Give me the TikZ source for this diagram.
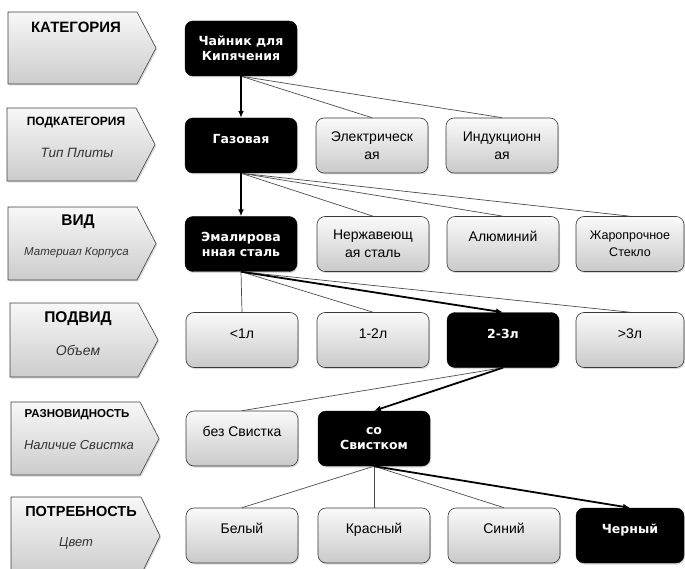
\documentclass[tikz,border=0pt]{standalone}
\usepackage{fontspec}
\setmainfont{Liberation Sans}
\newfontfamily\bfont{DejaVu Sans}
\usetikzlibrary{arrows.meta,shadows}
\tikzset{
  chev/.style={draw=gray!50!black, line width=0.6pt, top color=gray!6, bottom color=gray!40,
    drop shadow={opacity=0.3, shadow xshift=1.2pt, shadow yshift=-1.5pt}},
  ctitle/.style={inner sep=0pt},
  csub/.style={inner sep=0pt, text=black!80},
  cbox/.style={rounded corners=8pt, minimum width=112pt, minimum height=55pt, inner sep=2pt, align=center,
    drop shadow={opacity=0.3, shadow xshift=1pt, shadow yshift=-1.5pt}},
  gbox/.style={cbox, draw=gray!45!black, line width=0.6pt, top color=gray!4, bottom color=gray!42,
    font=\fontsize{14}{18}\selectfont},
  kbox/.style={cbox, fill=black, draw=black, text=white, font=\bfont\bfseries\fontsize{12.5}{15}\selectfont},
  oneln/.style={text height=9pt, text depth=13pt},
  cthin/.style={draw=black!70, line width=0.7pt},
  chot/.style={draw=black, line width=1.8pt, -{Latex[length=7pt,width=6pt]}},
}
\begin{document}
\begin{tikzpicture}[x=1pt,y=-1pt]
\useasboundingbox (0,0) rectangle (685,569);
% left chevrons
\path[chev] (8,12) -- (137,12) -- (156,48) -- (137,84) -- (8,84) -- cycle;
\path[chev] (7,108) -- (136,108) -- (155,144.5) -- (136,181) -- (7,181) -- cycle;
\path[chev] (8,207) -- (137,207) -- (156,243.5) -- (137,280) -- (8,280) -- cycle;
\path[chev] (10,303) -- (138,303) -- (158,340) -- (138,377) -- (10,377) -- cycle;
\path[chev] (11,402) -- (140,402) -- (159,438.5) -- (140,475) -- (11,475) -- cycle;
\path[chev] (11,497) -- (141,497) -- (160,536) -- (141,575) -- (11,575) -- cycle;
\node[ctitle, font=\bfseries\fontsize{15}{18}\selectfont] (t1) at (76,27) {КАТЕГОРИЯ};
\node[ctitle, font=\bfseries\fontsize{12}{14}\selectfont] (t2) at (76,123) {ПОДКАТЕГОРИЯ};
\node[csub, font=\itshape\fontsize{13.5}{16}\selectfont] (s2) at (77,153) {Тип Плиты};
\node[ctitle, font=\bfseries\fontsize{15.5}{18}\selectfont] (t3) at (78,222) {ВИД};
\node[csub, font=\itshape\fontsize{11.5}{14}\selectfont] (s3) at (76.5,253) {Материал Корпуса};
\node[ctitle, font=\bfseries\fontsize{15.5}{18}\selectfont] (t4) at (78,319) {ПОДВИД};
\node[csub, font=\itshape\fontsize{14}{16}\selectfont] (s4) at (78,350) {Объем};
\node[ctitle, font=\bfseries\fontsize{11.5}{14}\selectfont] (t5) at (77,415) {РАЗНОВИДНОСТЬ};
\node[csub, font=\itshape\fontsize{13}{16}\selectfont] (s5) at (79,445) {Наличие Свистка};
\node[ctitle, font=\bfseries\fontsize{14.5}{18}\selectfont] (t6) at (81,512) {ПОТРЕБНОСТЬ};
\node[csub, font=\itshape\fontsize{13}{16}\selectfont] (s6) at (76,543) {Цвет};
% boxes
\node[kbox] (root) at (241,48.5) {Чайник для\\Кипячения};
\node[kbox, oneln] (gas) at (241,145.5) {Газовая};
\node[gbox] (elec) at (372,145.5) {Электрическ\\ая};
\node[gbox] (ind) at (502,145.5) {Индукционн\\ая};
\node[kbox] (emal) at (241,244) {Эмалирова\\нная сталь};
\node[gbox] (nerzh) at (373,244) {Нержавеющ\\ая сталь};
\node[gbox, oneln] (alum) at (503,244) {Алюминий};
\node[gbox, minimum width=108pt, font=\fontsize{12.5}{17}\selectfont] (glass) at (630,244) {Жаропрочное\\Стекло};
\node[gbox, oneln] (lt1) at (242,340) {<1л};
\node[gbox, oneln] (v12) at (373,340) {1-2л};
\node[kbox, oneln] (v23) at (503,340) {2-3л};
\node[gbox, oneln, minimum width=108pt] (gt3) at (630,340) {>3л};
\node[gbox, oneln] (nows) at (242,438.5) {без Свистка};
\node[kbox] (ws) at (374,438.5) {со\\Свистком};
\node[gbox, oneln] (white) at (242,535.5) {Белый};
\node[gbox, oneln] (red) at (374,535.5) {Красный};
\node[gbox, oneln] (blue) at (504,535.5) {Синий};
\node[kbox, oneln, minimum width=108pt] (blk) at (630,535.5) {Черный};
% connectors
\draw[cthin] (root.south) -- (elec.north);
\draw[cthin] (root.south) -- (ind.north);
\draw[chot] (root.south) -- (gas.north);
\draw[cthin] (gas.south) -- (nerzh.north);
\draw[cthin] (gas.south) -- (alum.north);
\draw[cthin] (gas.south) -- (glass.north);
\draw[chot] (gas.south) -- (emal.north);
\draw[cthin] (emal.south) -- (lt1.north);
\draw[cthin] (emal.south) -- (v12.north);
\draw[cthin] (emal.south) -- (gt3.north);
\draw[chot] (emal.south) -- (v23.north);
\draw[cthin] (v23.south) -- (nows.north);
\draw[chot] (v23.south) -- (ws.north);
\draw[cthin] (ws.south) -- (white.north);
\draw[cthin] (ws.south) -- (red.north);
\draw[cthin] (ws.south) -- (blue.north);
\draw[chot] (ws.south) -- (blk.north);
\end{tikzpicture}
\end{document}
